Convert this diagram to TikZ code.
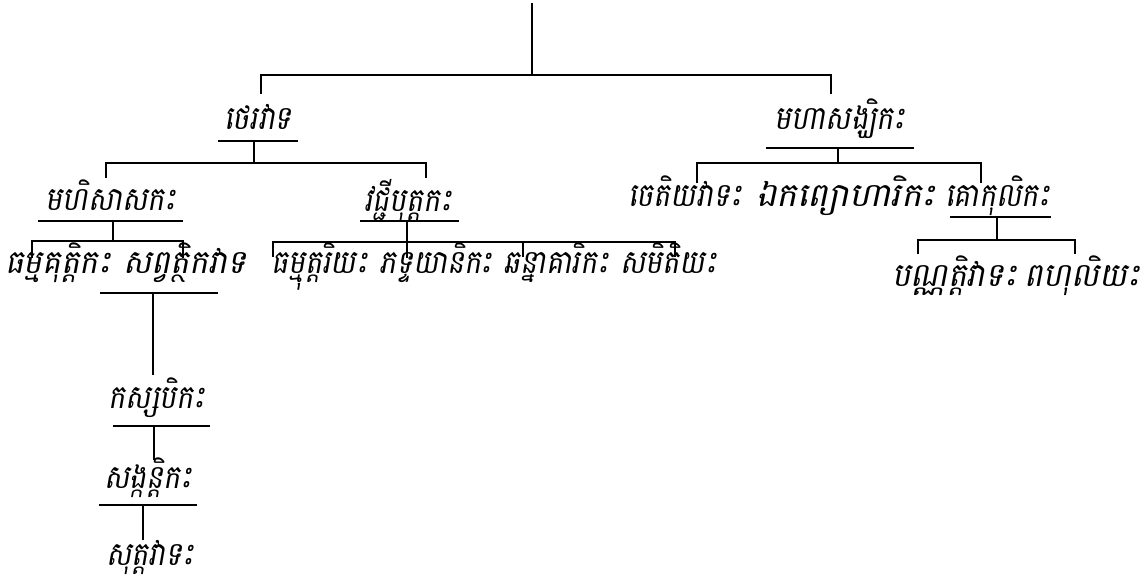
\documentclass[tikz,border=0pt]{standalone}
\usepackage{graphicx}
\usepackage{fontspec}
\newfontfamily\kh[Script=Khmer,FakeSlant=0.2]{Battambang}
\newcommand\KH[1]{\scalebox{1}[1.15]{#1}}
\newcommand\KHx[2]{\scalebox{#1}[1.15]{#2}}
\tikzset{
  lbl/.style={font=\kh\fontsize{28.5}{32}\selectfont, inner sep=0pt, anchor=base},
  ln/.style={line width=1.7pt, line cap=butt}
}
\begin{document}
\begin{tikzpicture}[x=1pt,y=-1pt]
\useasboundingbox (0,0) rectangle (1148,575);
% labels
\node[lbl] (T) at (258,130) {\KH{ថេរវាទ}};
\node[lbl] (M) at (840,130) {\KH{មហាសង្ឃិកះ}};
\node[lbl] (MS) at (111,210) {\KH{មហិសាសកះ}};
\node[lbl] (V) at (408,211) {\KH{វជ្ជីបុត្តកះ}};
\node[lbl,anchor=base west] (DG) at (5,273) {\KHx{1.1}{ធម្មគុត្តិកះ}};
\node[lbl,anchor=base east] (SV) at (247,273) {\KHx{1.12}{សព្វត្ថិកវាទ}};
\node[lbl,anchor=base west] (DU) at (271,273) {\KH{ធម្មុត្តរិយះ}};
\node[lbl,anchor=base west] (BY) at ([xshift=11pt]DU.base east) {\KH{ភទ្ទយានិកះ}};
\node[lbl,anchor=base west] (CH) at ([xshift=11pt]BY.base east) {\KH{ឆន្នាគារិកះ}};
\node[lbl,anchor=base west] (SM) at ([xshift=11pt]CH.base east) {\KH{សមិតិយះ}};
\node[lbl,anchor=base west] (CE) at (628,206) {\KH{ចេតិយវាទះ}};
\node[lbl,anchor=base] (EK) at (846,206) {\KHx{1.22}{ឯកព្យោហារិកះ}};
\node[lbl,anchor=base west] (GO) at (945,206) {\KH{គោកុលិកះ}};
\node[lbl,anchor=base west] (PR) at (892,286) {\KHx{1.1}{បណ្ណត្តិវាទះ}};
\node[lbl,anchor=base east] (BA) at (1140,286) {\KHx{1.1}{ពហុលិយះ}};
\node[lbl] (KA) at (157,408) {\KH{កស្សបិកះ}};
\node[lbl] (SK) at (148,488) {\KH{សង្កន្តិកះ}};
\node[lbl] (SU) at (150,565) {\KH{សុត្តវាទះ}};
% connectors
\coordinate (root) at (532,3);
\draw[ln, line width=2.4pt] (root) -- (532,75);
\draw[ln] (261,94) -- (261,75) -- (831,75) -- (831,94);
\draw[ln] (218,141) -- (298,141);
\draw[ln] (254,141) -- (254,163);
\draw[ln] (106,178) -- (106,163) -- (426,163) -- (426,178);
\draw[ln] (766,148) -- (914,148);
\draw[ln] (838,148) -- (838,163);
\draw[ln] (697,183) -- (697,163) -- (981,163) -- (981,183);
\draw[ln] (38,221) -- (183,221);
\draw[ln] (113,221) -- (113,241);
\draw[ln] (32,258) -- (32,241) -- (183,241) -- (183,258);
\draw[ln] (360,221) -- (459,221);
\draw[ln] (407,221) -- (407,258);
\draw[ln] (273,257) -- (273,242) -- (675,242) -- (675,257);
\draw[ln] (523,242) -- (523,257);
\draw[ln] (950,217) -- (1051,217);
\draw[ln] (997,217) -- (997,240);
\draw[ln] (918,254) -- (918,240) -- (1075,240) -- (1075,254);
\draw[ln] (100,293) -- (218,293);
\draw[ln] (153,293) -- (153,375);
\draw[ln] (113,426) -- (210,426);
\draw[ln] (154,426) -- (154,460);
\draw[ln] (99,505) -- (197,505);
\draw[ln] (143,505) -- (143,540);
\end{tikzpicture}
\end{document}
